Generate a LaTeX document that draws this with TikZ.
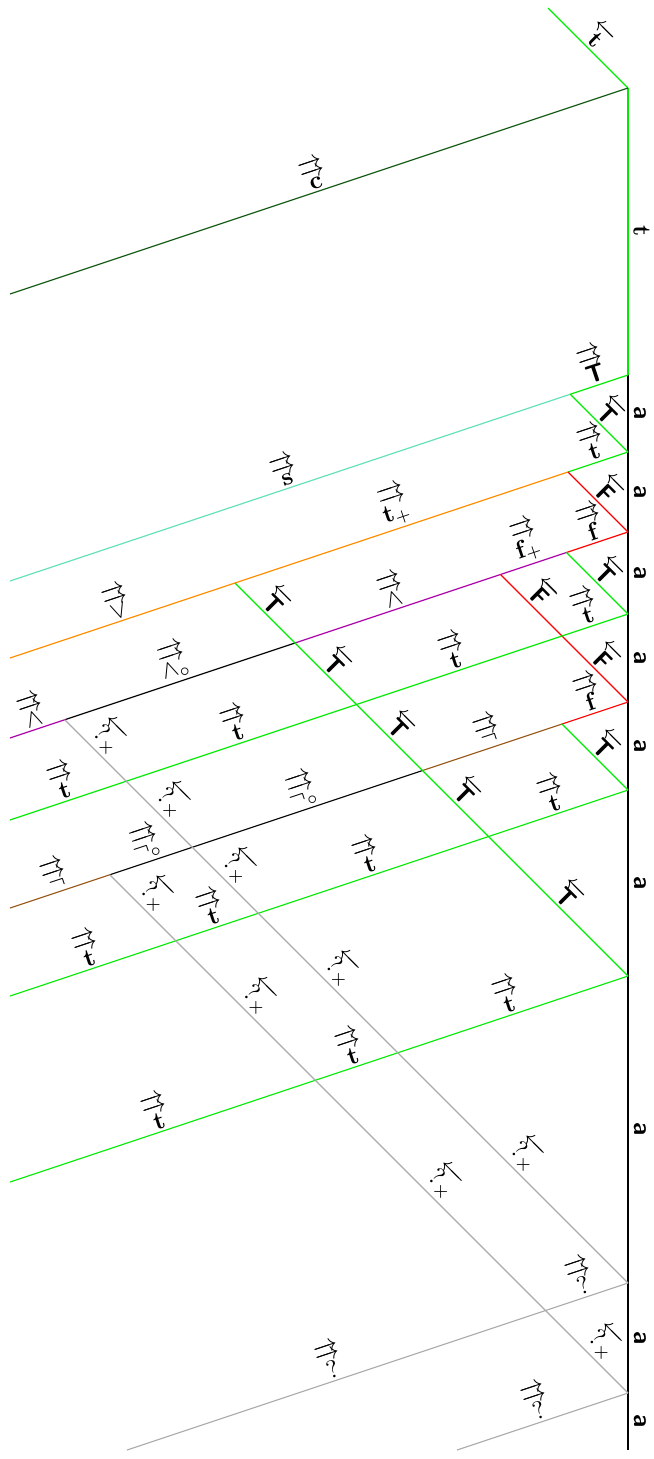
\documentclass[tikz,border=0pt]{standalone}
\usepackage{amsmath,amssymb}
\newcommand{\twoR}[1]{\overrightarrow{\overrightarrow{#1}}}
\newcommand{\oneL}[1]{\overleftarrow{#1}}
\newcommand{\sfT}{\text{\sffamily\bfseries T}}
\newcommand{\sfF}{\text{\sffamily\bfseries F}}
\definecolor{cDG}{RGB}{20,90,20}
\definecolor{cG}{RGB}{0,235,0}
\definecolor{cCy}{RGB}{100,225,180}
\definecolor{cOr}{RGB}{255,140,0}
\definecolor{cRd}{RGB}{255,0,0}
\definecolor{cPu}{RGB}{170,0,170}
\definecolor{cBr}{RGB}{150,85,20}
\definecolor{cGy}{RGB}{170,170,170}
\begin{document}
\begin{tikzpicture}[x=0.4pt,y=-0.4pt,
  sig/.style={line width=0.45pt},
  lab/.style={sloped,above,inner sep=1pt,text=black},
  elab/.style={rotate=-90,anchor=south,inner sep=2pt,text=black}]
\useasboundingbox (0,0) rectangle (653,1459);
% right edge points
\coordinate (Tt) at (548,8);
\coordinate (E0) at (628,88);
\coordinate (E1) at (628,375);
\coordinate (E2) at (628,452);
\coordinate (E3) at (628,532);
\coordinate (E4) at (628,614);
\coordinate (E5) at (628,702);
\coordinate (E6) at (628,790);
\coordinate (E7) at (628,976);
\coordinate (E8) at (628,1283);
\coordinate (E9) at (628,1393);
\coordinate (E10) at (628,1450);
% other points
\coordinate (L0) at (10,294);
\coordinate (J1) at (570.25,394.25);
\coordinate (L1) at (10,581);
\coordinate (J2) at (568,472);
\coordinate (K) at (235,583);
\coordinate (L2) at (10,658);
\coordinate (J3) at (566.5,552.5);
\coordinate (R) at (500.5,574.5);
\coordinate (P) at (295,643);
\coordinate (G1) at (64.75,719.75);
\coordinate (L3) at (10,738);
\coordinate (X4a) at (562,636);
\coordinate (X4b) at (356.5,704.5);
\coordinate (X4c) at (126.25,781.25);
\coordinate (L4) at (10,820);
\coordinate (J5) at (562,724);
\coordinate (X5a) at (422.5,770.5);
\coordinate (X5b) at (192.25,847.25);
\coordinate (G2) at (109.75,874.75);
\coordinate (L5) at (10,908);
\coordinate (X6a) at (488.5,836.5);
\coordinate (X6b) at (258.25,913.25);
\coordinate (X6c) at (175.75,940.75);
\coordinate (L6) at (10,996);
\coordinate (X7a) at (397.75,1052.75);
\coordinate (X7b) at (315.25,1080.25);
\coordinate (L7) at (10,1182);
\coordinate (X8a) at (545.5,1310.5);
\coordinate (L8) at (127,1450);
\coordinate (L9) at (457,1450);

% right edge
\draw[sig,cG] (E0) -- node[elab]{$\mathbf{t}$} (E1);
\draw[line width=0.6pt] (E1) -- node[elab]{\sffamily\bfseries a} (E2)
  -- node[elab]{\sffamily\bfseries a} (E3)
  -- node[elab]{\sffamily\bfseries a} (E4)
  -- node[elab]{\sffamily\bfseries a} (E5)
  -- node[elab]{\sffamily\bfseries a} (E6)
  -- node[elab]{\sffamily\bfseries a} (E7)
  -- node[elab]{\sffamily\bfseries a} (E8)
  -- node[elab]{\sffamily\bfseries a} (E9)
  -- node[elab]{\sffamily\bfseries a} (E10);

% top
\draw[sig,cG] (Tt) -- node[lab]{$\oneL{\mathbf{t}}$} (E0);
\draw[sig,cDG] (L0) -- node[lab]{$\twoR{\mathbf{c}}$} (E0);

% line from E1
\draw[sig,cG] (J1) -- node[lab]{$\twoR{\sfT}$} (E1);
\draw[sig,cCy] (L1) -- node[lab]{$\twoR{\mathbf{s}}$} (J1);
\draw[sig,cG] (J1) -- node[lab]{$\oneL{\sfT}$} (E2);

% line from E2
\draw[sig,cG] (J2) -- node[lab]{$\twoR{\mathbf{t}}$} (E2);
\draw[sig,cOr] (K) -- node[lab]{$\twoR{\mathbf{t}_{+}}$} (J2);
\draw[sig,cOr] (L2) -- node[lab]{$\twoR{\vee}$} (K);
\draw[sig,cRd] (J2) -- node[lab]{$\oneL{\sfF}$} (E3);

% line from E3
\draw[sig,cRd] (J3) -- node[lab]{$\twoR{\mathbf{f}}$} (E3);
\draw[sig,cPu] (R) -- node[lab]{$\twoR{\mathbf{f}_{+}}$} (J3);
\draw[sig,cPu] (P) -- node[lab]{$\twoR{\wedge}$} (R);
\draw[sig] (G1) -- node[lab]{$\twoR{\wedge_{\circ}}$} (P);
\draw[sig,cPu] (L3) -- node[lab]{$\twoR{\wedge}$} (G1);
\draw[sig,cG] (J3) -- node[lab]{$\oneL{\sfT}$} (E4);
\draw[sig,cRd] (R) -- node[lab]{$\oneL{\sfF}$} (X4a)
  -- node[lab]{$\oneL{\sfF}$} (E5);

% line from E4
\draw[sig,cG] (L4) -- node[lab]{$\twoR{\mathbf{t}}$} (X4c)
  -- node[lab]{$\twoR{\mathbf{t}}$} (X4b)
  -- node[lab]{$\twoR{\mathbf{t}}$} (X4a)
  -- node[lab,pos=0.45]{$\twoR{\mathbf{t}}$} (E4);

% line from E5
\draw[sig,cRd] (J5) -- node[lab]{$\twoR{\mathbf{f}}$} (E5);
\draw[sig,cBr] (X5a) -- node[lab]{$\twoR{\neg}$} (J5);
\draw[sig] (G2) -- node[lab]{$\twoR{\neg_{\circ}}$} (X5b)
  -- node[lab]{$\twoR{\neg_{\circ}}$} (X5a);
\draw[sig,cBr] (L5) -- node[lab]{$\twoR{\neg}$} (G2);
\draw[sig,cG] (J5) -- node[lab]{$\oneL{\sfT}$} (E6);

% long T line
\draw[sig,cG] (K) -- node[lab]{$\oneL{\sfT}$} (P)
  -- node[lab]{$\oneL{\sfT}$} (X4b)
  -- node[lab]{$\oneL{\sfT}$} (X5a)
  -- node[lab]{$\oneL{\sfT}$} (X6a)
  -- node[lab]{$\oneL{\sfT}$} (E7);

% line from E6
\draw[sig,cG] (L6) -- node[lab]{$\twoR{\mathbf{t}}$} (X6c)
  -- node[lab]{$\twoR{\mathbf{t}}$} (X6b)
  -- node[lab]{$\twoR{\mathbf{t}}$} (X6a)
  -- node[lab]{$\twoR{\mathbf{t}}$} (E6);

% line from E7
\draw[sig,cG] (L7) -- node[lab]{$\twoR{\mathbf{t}}$} (X7b)
  -- node[lab]{$\twoR{\mathbf{t}}$} (X7a)
  -- node[lab]{$\twoR{\mathbf{t}}$} (E7);

% gray lines
\draw[sig,cGy] (G1) -- node[lab]{$\oneL{?_{\times}}$} (X4c)
  -- node[lab]{$\oneL{?_{\times}}$} (X5b)
  -- node[lab]{$\oneL{?_{\times}}$} (X6b)
  -- node[lab]{$\oneL{?_{\times}}$} (X7a)
  -- node[lab]{$\oneL{?_{\times}}$} (E8);
\draw[sig,cGy] (G2) -- node[lab]{$\oneL{?_{\times}}$} (X6c)
  -- node[lab]{$\oneL{?_{\times}}$} (X7b)
  -- node[lab]{$\oneL{?_{\times}}$} (X8a)
  -- node[lab,pos=0.55]{$\oneL{?_{\times}}$} (E9);
\draw[sig,cGy] (L8) -- node[lab]{$\twoR{?}$} (X8a)
  -- node[lab]{$\twoR{?}$} (E8);
\draw[sig,cGy] (L9) -- node[lab]{$\twoR{?}$} (E9);
\end{tikzpicture}
\end{document}
